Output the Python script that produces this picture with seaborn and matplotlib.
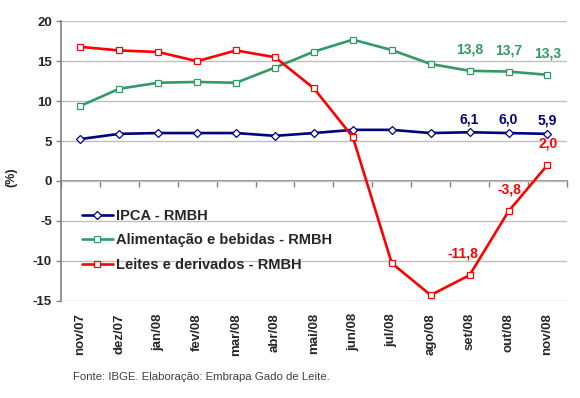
import numpy as np
import pandas as pd
import matplotlib
matplotlib.use("Agg")
import matplotlib.pyplot as plt
import seaborn as sns

# dados
meses = ["nov/07", "dez/07", "jan/08", "fev/08", "mar/08", "abr/08", "mai/08",
         "jun/08", "jul/08", "ago/08", "set/08", "out/08", "nov/08"]
ipca = [5.25, 5.9, 6.0, 6.0, 6.0, 5.65, 6.0, 6.4, 6.4, 6.0, 6.1, 6.0, 5.9]
alimentacao = [9.4, 11.55, 12.3, 12.4, 12.3, 14.2, 16.2, 17.7, 16.4, 14.65, 13.8, 13.7, 13.3]
leites = [16.8, 16.35, 16.15, 15.0, 16.35, 15.5, 11.6, 5.5, -10.3, -14.3, -11.8, -3.8, 2.0]

nomes = ["IPCA - RMBH", "Alimentação e bebidas - RMBH", "Leites e derivados - RMBH"]
cores = ["#000080", "#339966", "#FF0000"]
marcadores = ["D", "s", "s"]

sns.set_style("white")
plt.rcParams['font.family'] = ['Liberation Sans', 'DejaVu Sans']
plt.rcParams['axes.unicode_minus'] = False

fig = plt.figure(figsize=(5.8, 3.98), dpi=100)
ax = fig.add_axes([0.105, 0.2445, 0.8724, 0.702])

x = np.arange(len(meses))
for serie, nome, cor, mk in zip([ipca, alimentacao, leites], nomes, cores, marcadores):
    sns.lineplot(x=x, y=serie, ax=ax, color=cor, lw=1.9, marker=mk,
                 markersize=5 if mk == "s" else 4.5, markerfacecolor="white",
                 markeredgecolor=cor, markeredgewidth=0.9, label=nome)

ax.set_xlim(-0.5, len(meses) - 0.5)
ax.set_ylim(-15, 20)
ax.set_yticks(range(-15, 21, 5))
ax.yaxis.grid(True, color="#C0C0C0", lw=1)
ax.xaxis.grid(False)
for s in ["top", "right", "bottom"]:
    ax.spines[s].set_visible(False)
ax.spines["left"].set_color("#808080")
ax.spines["left"].set_linewidth(1.2)
ax.tick_params(axis="y", left=True, length=3.5, width=1, color="#808080",
               labelsize=9.5, pad=3)
for t in ax.get_yticklabels():
    t.set_fontweight("bold")

ax.set_xticks(x)
ax.set_xticklabels(meses, rotation=90, fontsize=9.5, fontweight="bold", va="top")
ax.tick_params(axis="x", bottom=True, length=0, pad=9)

# eixo no zero com marcas entre categorias
zero_pos = (0 - (-15)) / 35
sec = ax.secondary_xaxis(zero_pos)
sec.set_xticks(np.arange(-0.5, len(meses), 1))
sec.set_xticklabels([])
sec.tick_params(axis="x", direction="out", length=4, width=1, color="#808080")
sec.spines["bottom"].set_color("#808080")
sec.spines["bottom"].set_linewidth(1.2)

def fmt(v):
    return f"{v:.1f}".replace(".", ",")

# rotulos de valores
for i in [10, 11, 12]:
    ax.annotate(fmt(ipca[i]), (x[i], ipca[i]), xytext=(0, 9.5), textcoords="offset points",
                ha="center", va="center", color=cores[0], fontsize=10, fontweight="bold")
    ax.annotate(fmt(alimentacao[i]), (x[i], alimentacao[i]), xytext=(0, 15),
                textcoords="offset points", ha="center", va="center", color=cores[1],
                fontsize=10, fontweight="bold")
for i, dx in zip([10, 11, 12], [-4.5, 1, 0.5]):
    ax.annotate(fmt(leites[i]), (x[i], leites[i]), xytext=(dx, 15.5),
                textcoords="offset points", ha="center", va="center", color=cores[2],
                fontsize=10, fontweight="bold")

ax.legend(loc="upper left", bbox_to_anchor=(0.03, 0.35), frameon=False,
          handlelength=2.1, handletextpad=0.25, labelspacing=0.72,
          prop={"weight": "bold", "size": 10.5}, borderaxespad=0)

fig.text(11 / 580, 1 - 177 / 398, "(%)", rotation=90, ha="center", va="center",
         fontsize=9, fontweight="bold")
fig.text(73 / 580, 1 - 377 / 398, "Fonte: IBGE. Elaboração: Embrapa Gado de Leite.",
         ha="left", va="center", fontsize=8.2, color="#404040")

fig.savefig("out.png", dpi=100)
